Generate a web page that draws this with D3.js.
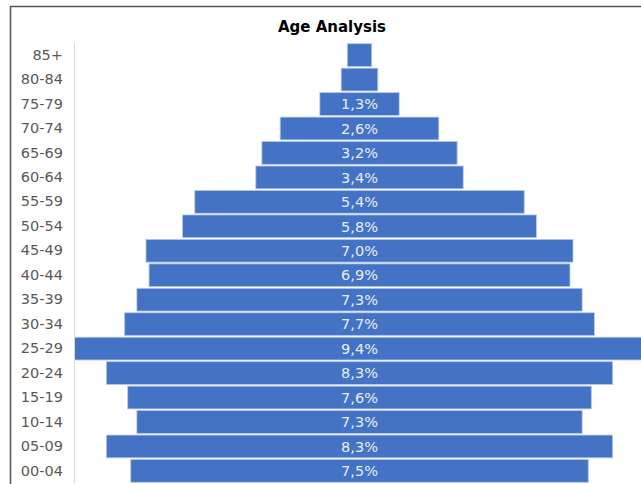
<!DOCTYPE html>
<html>
<head>
<meta charset="utf-8">
<script src="https://cdn.jsdelivr.net/npm/d3@7"></script>
<style>
  html, body { margin: 0; padding: 0; background: #fff; }
  svg { display: block; }
</style>
</head>
<body>
<svg id="chart" width="641" height="484"></svg>
<script>
// Age groups, top to bottom, and share of population (%)
const ageGroups = ["85+", "80-84", "75-79", "70-74", "65-69", "60-64", "55-59", "50-54",
  "45-49", "40-44", "35-39", "30-34", "25-29", "20-24", "15-19", "10-14", "05-09", "00-04"];
const shares = [0.4, 0.6, 1.3, 2.6, 3.2, 3.4, 5.4, 5.8, 7.0, 6.9, 7.3, 7.7, 9.4, 8.3, 7.6, 7.3, 8.3, 7.5];
// Bars narrower than this share carry no label
const labelThreshold = 1.0;

const svg = d3.select("#chart");
const W = 641, H = 484;
const plot = { left: 74, right: 641, top: 43, bottom: 483 };
const fontFamily = "'DejaVu Sans', 'Open Sans', sans-serif";

// Outer frame (top and left edges visible)
svg.append("line").attr("x1", 10).attr("x2", W).attr("y1", 6.5).attr("y2", 6.5)
  .attr("stroke", "#555").attr("stroke-width", 1.5);
svg.append("line").attr("x1", 10.5).attr("x2", 10.5).attr("y1", 6).attr("y2", H)
  .attr("stroke", "#555").attr("stroke-width", 1.5);

// Title
svg.append("text")
  .attr("x", 332).attr("y", 32)
  .attr("text-anchor", "middle")
  .attr("font-family", fontFamily)
  .attr("font-weight", "bold")
  .attr("font-size", 15)
  .attr("fill", "#000")
  .text("Age Analysis");

// Symmetric scale: each bar spans [-v/2, v/2] around the centre line
const center = 359.5, pxPerUnit = 61;
const x = d3.scaleLinear()
  .domain([-5, 5])
  .range([center - 5 * pxPerUnit, center + 5 * pxPerUnit]);

const y = d3.scaleBand()
  .domain(ageGroups)
  .range([plot.top, plot.bottom])
  .paddingInner(0.07)
  .paddingOuter(0.03);

svg.append("defs").append("clipPath").attr("id", "plotClip")
  .append("rect")
  .attr("x", plot.left + 1).attr("y", plot.top - 2)
  .attr("width", plot.right - plot.left).attr("height", plot.bottom - plot.top + 4);

const data = ageGroups.map((g, i) => ({ group: g, value: shares[i] }));

const bars = svg.append("g").attr("clip-path", "url(#plotClip)");
bars.selectAll("rect")
  .data(data)
  .join("rect")
  .attr("x", d => x(-d.value / 2))
  .attr("y", d => y(d.group))
  .attr("width", d => x(d.value / 2) - x(-d.value / 2))
  .attr("height", y.bandwidth())
  .attr("fill", "#4472C4")
  .attr("stroke", "#b4c7e7")
  .attr("stroke-width", 0.8);

// Value labels inside bars
bars.selectAll("text")
  .data(data.filter(d => d.value >= labelThreshold))
  .join("text")
  .attr("x", x(0))
  .attr("y", d => y(d.group) + y.bandwidth() / 2)
  .attr("dy", "0.36em")
  .attr("text-anchor", "middle")
  .attr("font-family", fontFamily)
  .attr("font-size", 14.5)
  .attr("fill", "#e8eef8")
  .text(d => d.value.toFixed(1).replace(".", ",") + "%");

// Category axis on the left
const yAxis = d3.axisLeft(y).tickSize(0).tickPadding(11);
const ag = svg.append("g")
  .attr("transform", `translate(${plot.left},0)`)
  .call(yAxis);
ag.select(".domain")
  .attr("stroke", "#d9d9d9")
  .attr("d", `M0.5,${plot.top}V${plot.bottom}`);
ag.selectAll("text")
  .attr("font-family", fontFamily)
  .attr("font-size", 14.5)
  .attr("fill", "#595959");
</script>
</body>
</html>
